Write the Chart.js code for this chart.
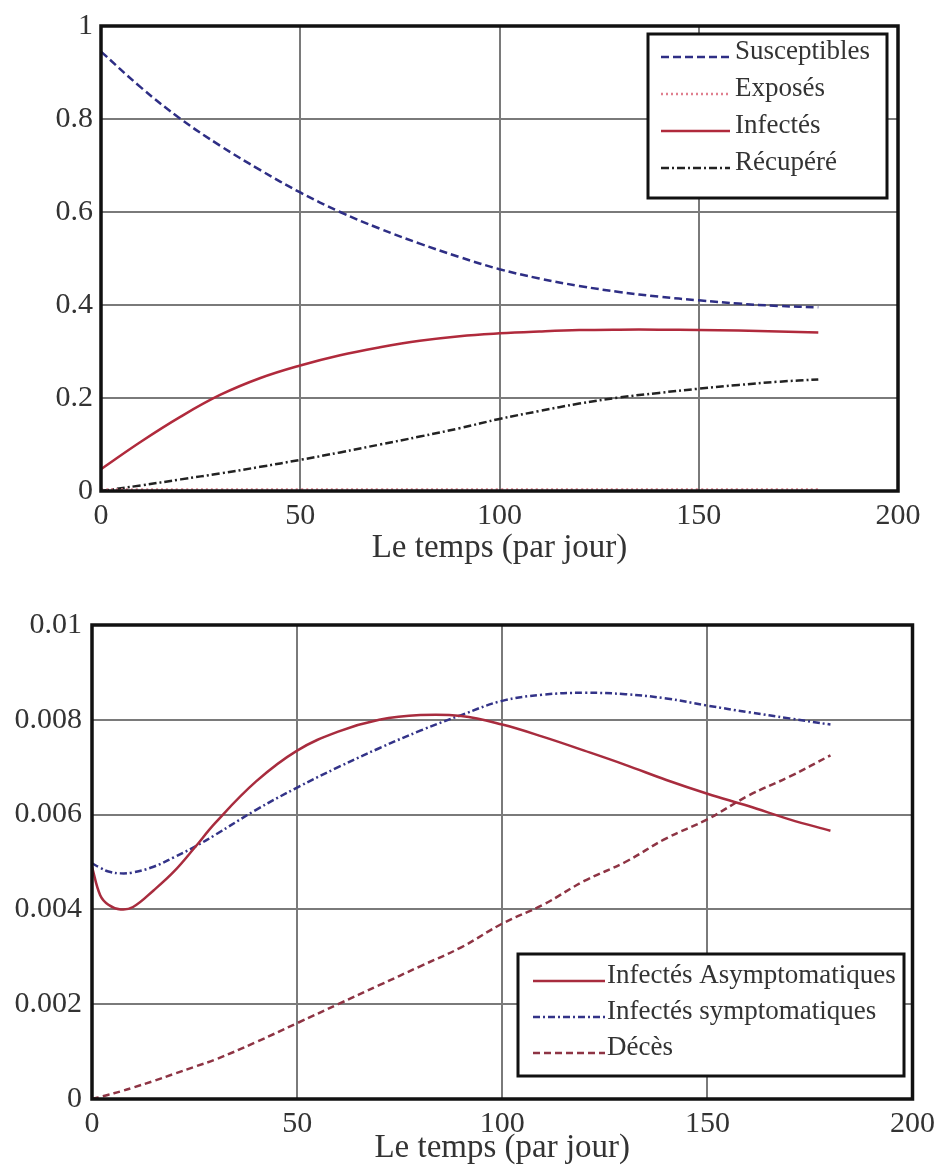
<!DOCTYPE html>
<html lang="fr">
<head>
    <meta charset="UTF-8">
    <title>Évolution de l'épidémie</title>
    <script src="https://cdn.jsdelivr.net/npm/chart.js"></script>
    <style>
        body { margin: 0; background: #fff; }
        canvas { position: absolute; left: 0; }
        #chartHaut { top: 0; }
        #chartBas { top: 575px; }
    </style>
</head>
<body>
    <canvas id="chartHaut" width="942" height="575"></canvas>
    <canvas id="chartBas" width="942" height="593"></canvas>
    <script>
        // Données
        const joursHaut = [0, 10, 20, 30, 40, 50, 60, 70, 80, 90, 100, 110, 120, 130, 140, 150, 160, 170, 180];
        const susceptibles = [0.945, 0.868, 0.800, 0.742, 0.690, 0.642, 0.600, 0.564, 0.532, 0.503, 0.477, 0.457, 0.441, 0.428, 0.418, 0.410, 0.403, 0.398, 0.395];
        const exposes = [0.003, 0.003, 0.003, 0.003, 0.003, 0.003, 0.003, 0.003, 0.003, 0.003, 0.003, 0.003, 0.003, 0.003, 0.003, 0.003, 0.003, 0.003, 0.003];
        const infectes = [0.047, 0.106, 0.160, 0.207, 0.243, 0.270, 0.292, 0.309, 0.323, 0.333, 0.339, 0.343, 0.346, 0.347, 0.347, 0.346, 0.345, 0.343, 0.341];
        const recuperes = [0.000, 0.012, 0.025, 0.038, 0.052, 0.067, 0.083, 0.100, 0.117, 0.135, 0.155, 0.172, 0.188, 0.201, 0.211, 0.220, 0.228, 0.235, 0.240];

        const joursBas = [0, 2, 4, 7, 10, 15, 20, 25, 30, 40, 50, 60, 70, 80, 90, 100, 110, 120, 130, 140, 150, 160, 170, 180];
        const asymptomatiques = [0.0049, 0.0043, 0.0041, 0.0040, 0.00405, 0.0044, 0.0048, 0.0053, 0.00582, 0.0067, 0.00735, 0.00775, 0.0080, 0.0081, 0.00808, 0.0079, 0.00764, 0.00735, 0.00705, 0.00673, 0.00644, 0.00618, 0.0059, 0.00566];
        const symptomatiques = [0.00497, 0.00488, 0.0048, 0.00476, 0.00478, 0.0049, 0.0051, 0.00532, 0.00557, 0.0061, 0.00657, 0.0070, 0.0074, 0.00777, 0.0081, 0.0084, 0.00853, 0.00857, 0.00854, 0.00845, 0.0083, 0.00816, 0.00803, 0.0079];
        const deces = [0, 0.00004, 0.00009, 0.00016, 0.00024, 0.00038, 0.00053, 0.00068, 0.00083, 0.0012, 0.0016, 0.0020, 0.0024, 0.0028, 0.0032, 0.0037, 0.0041, 0.0046, 0.0050, 0.0055, 0.0059, 0.0064, 0.0068, 0.00725];

        const xTicks = [0, 50, 100, 150, 200];
        const yTicksHaut = [0, 0.2, 0.4, 0.6, 0.8, 1];
        const yTicksBas = [0, 0.002, 0.004, 0.006, 0.008, 0.01];

        const serif = '"Liberation Serif", "Times New Roman", serif';
        const points = (xs, ys) => xs.map((x, i) => ({ x: x, y: ys[i] }));
        const fmt = v => String(+v.toFixed(4));

        // cadre noir autour de la zone de tracé
        const cadre = {
            id: 'cadre',
            afterDatasetsDraw(chart) {
                const { ctx, chartArea: a } = chart;
                ctx.save();
                ctx.strokeStyle = '#111';
                ctx.lineWidth = 3.5;
                ctx.strokeRect(a.left, a.top, a.right - a.left, a.bottom - a.top);
                ctx.restore();
            }
        };

        // légende encadrée dans le graphique
        const legendeBoite = {
            id: 'legendeBoite',
            afterDraw(chart, args, opts) {
                const ctx = chart.ctx;
                ctx.save();
                ctx.fillStyle = '#fff';
                ctx.fillRect(opts.x, opts.y, opts.w, opts.h);
                ctx.strokeStyle = '#111';
                ctx.lineWidth = 3;
                ctx.strokeRect(opts.x, opts.y, opts.w, opts.h);
                chart.data.datasets.forEach((ds, i) => {
                    const y = opts.rows[i];
                    ctx.strokeStyle = ds.borderColor;
                    ctx.lineWidth = ds.borderWidth;
                    ctx.setLineDash(ds.borderDash || []);
                    ctx.beginPath();
                    ctx.moveTo(opts.x0, y + 5);
                    ctx.lineTo(opts.x1, y + 5);
                    ctx.stroke();
                    ctx.setLineDash([]);
                    ctx.fillStyle = '#333';
                    ctx.font = '27px ' + serif;
                    ctx.textBaseline = 'middle';
                    ctx.fillText(ds.label, opts.textX, y);
                });
                ctx.restore();
            }
        };

        const makeOptions = (yMax, yTicks, yWidth, xHeight, padding, yPad, legende) => ({
            responsive: false,
            animation: false,
            devicePixelRatio: 1,
            layout: { padding: padding },
            elements: { point: { radius: 0 }, line: { tension: 0.4 } },
            scales: {
                x: {
                    type: 'linear',
                    min: 0,
                    max: 200,
                    afterBuildTicks: s => { s.ticks = xTicks.map(v => ({ value: v })); },
                    afterFit: s => { s.height = xHeight; },
                    grid: { color: '#7a7a7a', lineWidth: 2, drawTicks: false },
                    border: { display: false },
                    ticks: { color: '#333', padding: 7, font: { family: serif, size: 30 }, maxRotation: 0 },
                    title: {
                        display: true,
                        text: 'Le temps (par jour)',
                        color: '#333',
                        padding: 0,
                        font: { family: serif, size: 33 }
                    }
                },
                y: {
                    min: 0,
                    max: yMax,
                    afterBuildTicks: s => { s.ticks = yTicks.map(v => ({ value: v })); },
                    afterFit: s => { s.width = yWidth; },
                    grid: { color: '#7a7a7a', lineWidth: 2, drawTicks: false },
                    border: { display: false },
                    ticks: { color: '#333', padding: yPad, font: { family: serif, size: 30 }, callback: fmt }
                }
            },
            plugins: {
                legend: { display: false },
                tooltip: { enabled: false },
                legendeBoite: legende
            }
        });

        // Graphique du haut
        new Chart(document.getElementById('chartHaut').getContext('2d'), {
            type: 'line',
            data: {
                datasets: [
                    { label: 'Susceptibles', data: points(joursHaut, susceptibles), borderColor: '#2e2e85', borderWidth: 2.5, borderDash: [8, 4] },
                    { label: 'Exposés', data: points(joursHaut, exposes), borderColor: '#e0808f', borderWidth: 2.5, borderDash: [2, 3] },
                    { label: 'Infectés', data: points(joursHaut, infectes), borderColor: '#b02a3c', borderWidth: 2.5 },
                    { label: 'Récupéré', data: points(joursHaut, recuperes), borderColor: '#222', borderWidth: 2.5, borderDash: [8, 3, 2, 3] }
                ]
            },
            options: makeOptions(1, yTicksHaut, 101, 77, { left: 0, top: 22, right: 44, bottom: 7 }, 8,
                { x: 648, y: 34, w: 239, h: 164, x0: 661, x1: 730, textX: 735, rows: [52, 89, 126, 163] }),
            plugins: [cadre, legendeBoite]
        });

        // Graphique du bas
        new Chart(document.getElementById('chartBas').getContext('2d'), {
            type: 'line',
            data: {
                datasets: [
                    { label: 'Infectés Asymptomatiques', data: points(joursBas, asymptomatiques), borderColor: '#a82c3e', borderWidth: 2.5 },
                    { label: 'Infectés symptomatiques', data: points(joursBas, symptomatiques), borderColor: '#333388', borderWidth: 2.5, borderDash: [7, 3, 2, 3] },
                    { label: 'Décès', data: points(joursBas, deces), borderColor: '#8e3444', borderWidth: 2.5, borderDash: [7, 4] }
                ]
            },
            options: makeOptions(0.01, yTicksBas, 92, 69, { left: 0, top: 50, right: 27, bottom: 0 }, 10,
                { x: 518, y: 379, w: 386, h: 122, x0: 533, x1: 605, textX: 607, rows: [401, 437, 473] }),
            plugins: [cadre, legendeBoite]
        });
    </script>
</body>
</html>
